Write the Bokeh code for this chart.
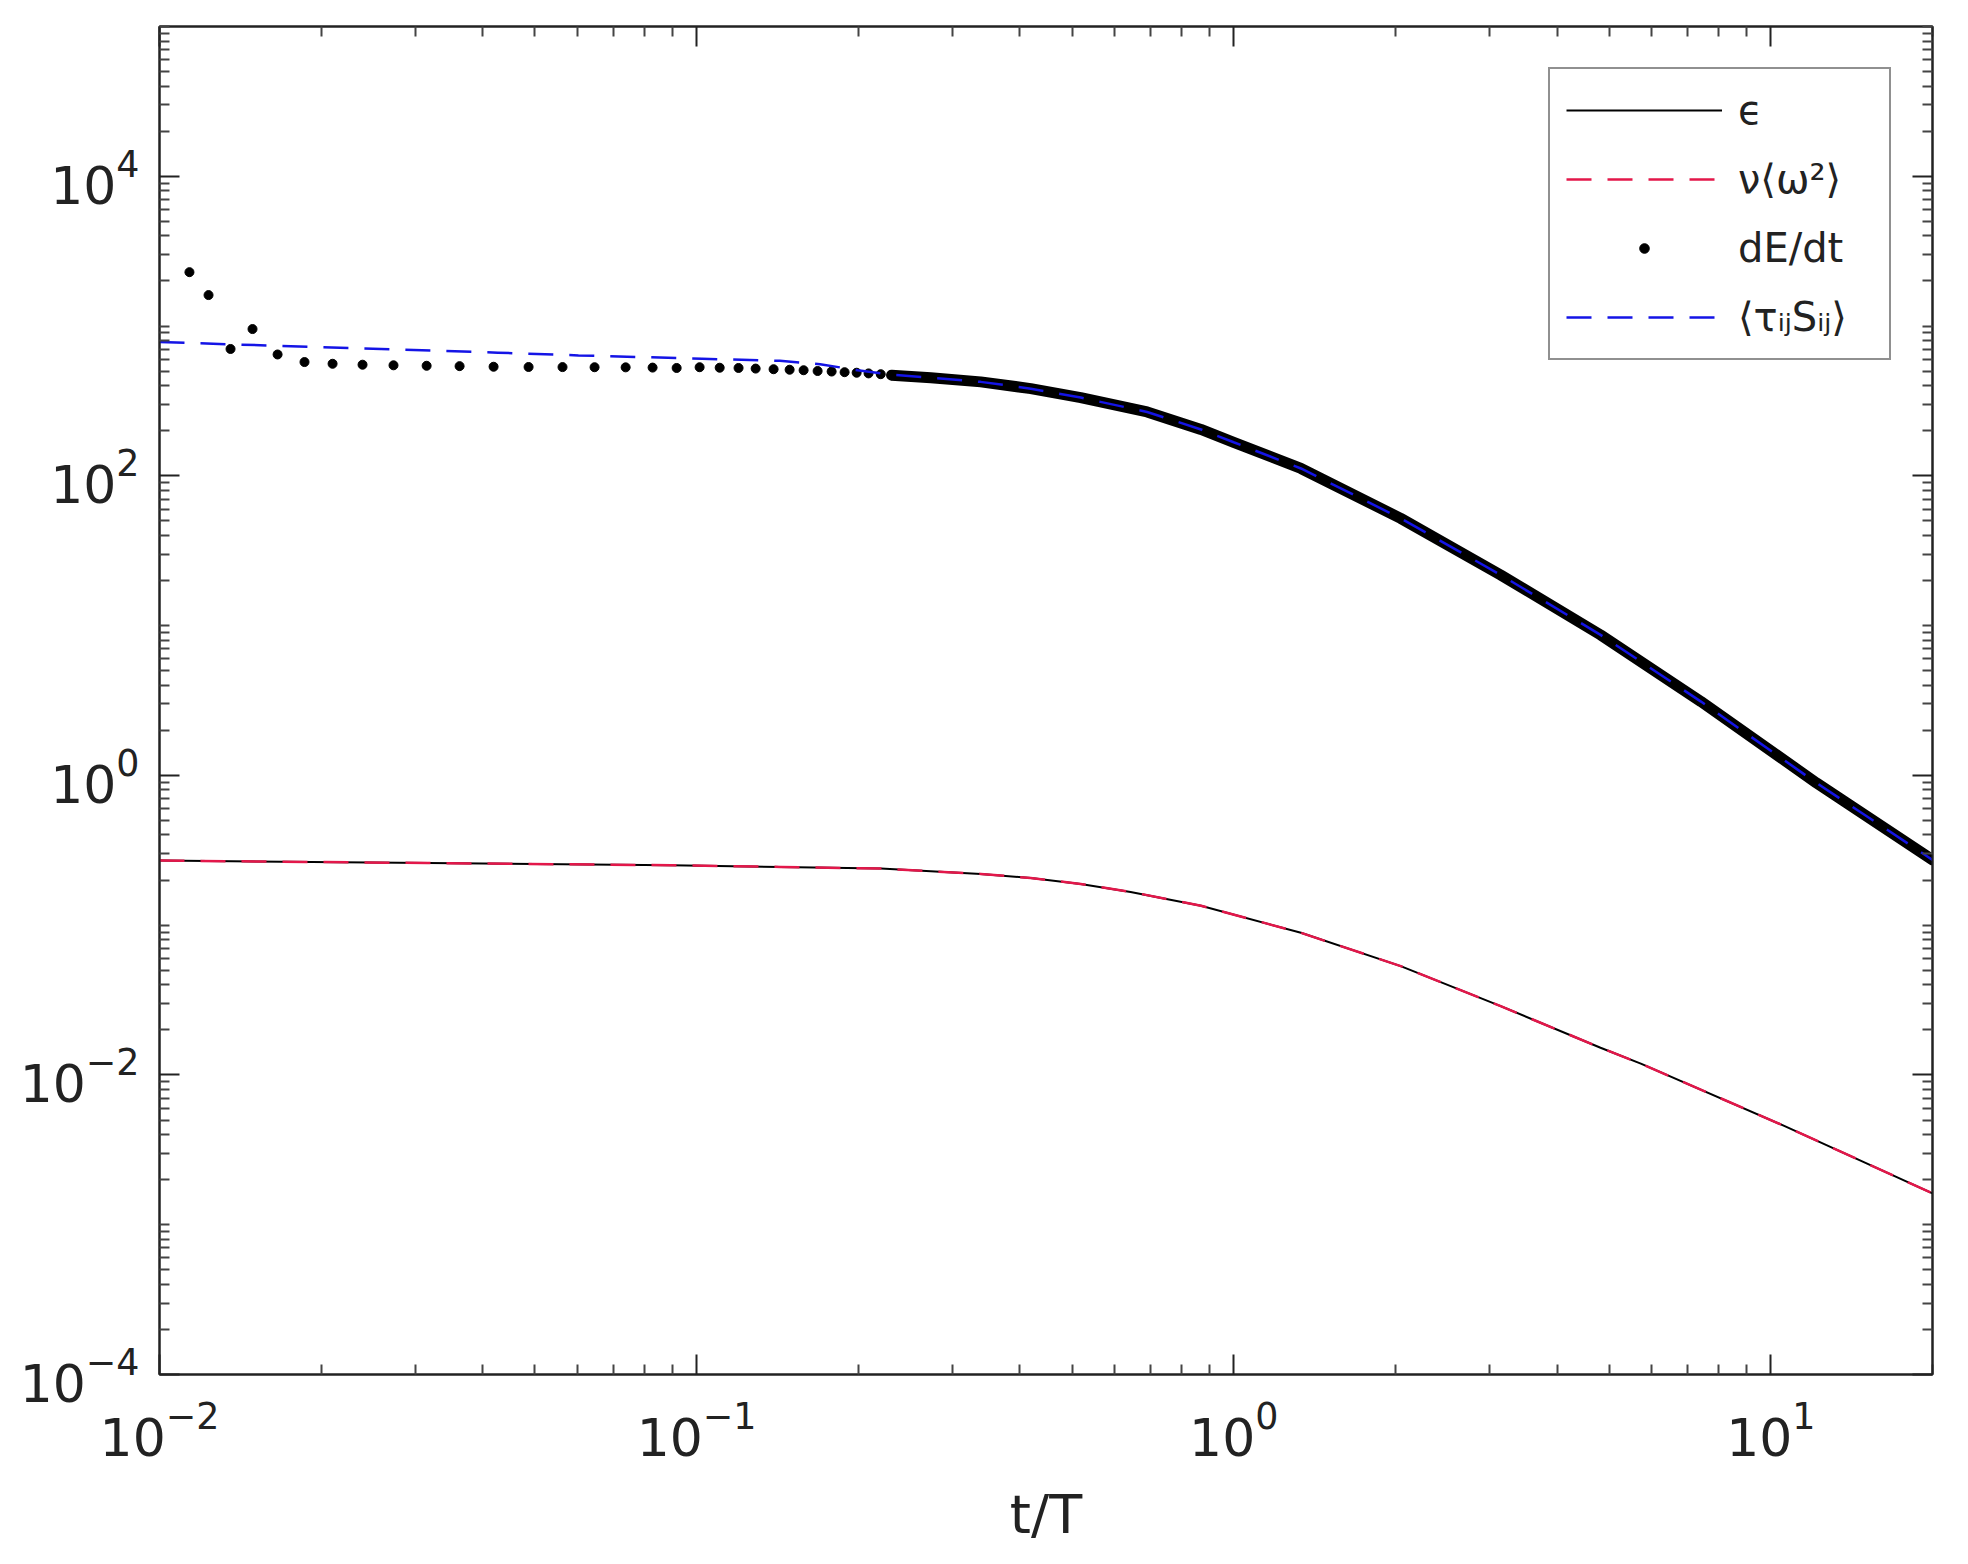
from bokeh.plotting import figure
from bokeh.models import LogAxis, FixedTicker, Legend, LegendItem, LogTickFormatter, CustomJSTickFormatter
from bokeh.embed import file_html
from bokeh.resources import INLINE

# ---------------- data ----------------
# epsilon and nu<omega^2> (the two lower curves coincide)
t_eps = [0.01, 0.0316, 0.0895, 0.1432, 0.2203, 0.2729, 0.3381, 0.4188, 0.5188,
         0.6427, 0.8690, 1.334, 2.046, 3.141, 4.819, 5.728, 10.59, 20.0]
eps = [0.270, 0.260, 0.2512, 0.2449, 0.2388, 0.2291, 0.2198, 0.2065, 0.1884,
       0.1667, 0.1349, 0.0889, 0.0533, 0.0288, 0.0152, 0.01189, 0.00457, 0.00162]
t_nu = t_eps
nu_omega2 = [0.270, 0.260, 0.2512, 0.2449, 0.2388, 0.2291, 0.2198, 0.2065, 0.1884,
             0.1667, 0.1349, 0.0889, 0.0533, 0.0288, 0.0152, 0.01189, 0.00457, 0.00162]

# dE/dt : resolved sample points
t_dots = [0.01137, 0.01234, 0.01356, 0.01490, 0.01659, 0.01862, 0.02100, 0.02388,
          0.02727, 0.03143, 0.03620, 0.04188, 0.04866, 0.05628, 0.06457, 0.07377,
          0.08280, 0.09180, 0.1013, 0.1104, 0.1197, 0.1288, 0.1391, 0.1490, 0.1582,
          0.1680, 0.1784, 0.1886, 0.1986, 0.2090, 0.2202, 0.2307]
dEdt_dots = [2290, 1610, 703, 955, 646, 575, 560, 552, 547, 543, 540, 535, 533, 532,
             531, 530, 528, 525, 531, 527, 525, 520, 515, 511, 507, 501, 497, 492,
             488, 483, 477, 470]
# dE/dt : densely sampled part (points merge into a thick band)
t_dense = [0.2307, 0.273, 0.338, 0.419, 0.519, 0.690, 0.869, 1.0, 1.334, 2.046,
           3.141, 4.819, 7.413, 12.16, 20.0]
dEdt_dense = [470, 452, 424, 382, 333, 267, 204, 167.5, 112, 52.0, 21.8, 8.67, 3.11,
              0.891, 0.273]

# <tau_ij S_ij>
t_tau = [0.01, 0.01995, 0.04266, 0.06026, 0.1023, 0.1429, 0.1698, 0.1995, 0.2307,
         0.273, 0.338, 0.419, 0.519, 0.690, 0.869, 1.0, 1.334, 2.046, 3.141, 4.819,
         7.413, 12.16, 20.0]
tauS = [782, 723, 664, 637, 605, 586, 556, 507, 473, 452, 424, 382, 333, 267, 204,
        167.5, 112, 52.0, 21.8, 8.67, 3.11, 0.891, 0.273]

x_major = [1e-2, 1e-1, 1e0, 1e1]
y_major = [1e-4, 1e-2, 1e0, 1e2, 1e4]
x_minor = [k * 10.0 ** n for n in range(-2, 2) for k in range(2, 10) if k * 10.0 ** n <= 20]
y_minor = [k * 10.0 ** n for n in range(-4, 6) for k in range(1, 10)
           if k * 10.0 ** n <= 1e5 and not (k == 1 and n % 2 == 0)]

INK = "#222222"
RED = "#e3174a"
BLUE = "#1414e6"

p = figure(width=1960, height=1556, x_axis_type="log", y_axis_type="log",
           x_range=(0.01, 20), y_range=(1e-4, 1e5),
           output_backend="svg", toolbar_location=None,
           min_border_left=159, min_border_right=28, min_border_top=26, min_border_bottom=182)
p.xgrid.visible = False
p.ygrid.visible = False
p.outline_line_color = INK
p.outline_line_width = 2
p.background_fill_color = "white"
p.border_fill_color = "white"

xt = FixedTicker(ticks=x_major, minor_ticks=x_minor)
yt = FixedTicker(ticks=y_major, minor_ticks=y_minor)


def style_axis(ax, labels=True):
    ax.axis_line_color = INK
    ax.axis_line_width = 2
    ax.major_tick_in = 20
    ax.major_tick_out = 0
    ax.minor_tick_in = 10
    ax.minor_tick_out = 0
    ax.major_tick_line_color = INK
    ax.major_tick_line_width = 2
    ax.minor_tick_line_color = "#444444"
    ax.minor_tick_line_width = 2
    if labels:
        ax.major_label_text_font = "DejaVu Sans"
        ax.major_label_text_font_size = "52px"
        ax.major_label_text_color = INK
    else:
        ax.formatter = CustomJSTickFormatter(code="return ''")
        ax.major_label_text_font_size = "0px"
        ax.major_label_standoff = 0


xa = p.xaxis[0]
xa.ticker = xt
xa.formatter = LogTickFormatter()
style_axis(xa)
xa.major_label_standoff = 26
xa.axis_label = "t/T"
xa.axis_label_text_font = "DejaVu Sans"
xa.axis_label_text_font_size = "54px"
xa.axis_label_text_font_style = "normal"
xa.axis_label_text_color = INK
xa.axis_label_standoff = 24

ya = p.yaxis[0]
ya.ticker = yt
ya.formatter = LogTickFormatter()
style_axis(ya)
ya.major_label_standoff = 20

top_ax = LogAxis(ticker=FixedTicker(ticks=x_major, minor_ticks=x_minor))
style_axis(top_ax, labels=False)
p.add_layout(top_ax, "above")
right_ax = LogAxis(ticker=FixedTicker(ticks=y_major, minor_ticks=y_minor))
style_axis(right_ax, labels=False)
p.add_layout(right_ax, "right")

# lower pair
r_eps = p.line(t_eps, eps, line_color="black", line_width=2)
r_nu = p.line(t_nu, nu_omega2, line_color=RED, line_width=2.5, line_dash="25 16")

# upper group
p.line(t_dense, dEdt_dense, line_color="black", line_width=11, line_cap="round", line_join="round")
r_dots = p.scatter(t_dots, dEdt_dots, marker="circle", size=9, fill_color="black", line_color="black")
r_tau = p.line(t_tau, tauS, line_color=BLUE, line_width=2.5, line_dash="25 16")

legend = Legend(items=[
    LegendItem(label="\u03f5", renderers=[r_eps]),
    LegendItem(label="\u03bd\u27e8\u03c9\u00b2\u27e9", renderers=[r_nu]),
    LegendItem(label="dE/dt", renderers=[r_dots]),
    LegendItem(label="\u27e8\u03c4\u1d62\u2c7cS\u1d62\u2c7c\u27e9", renderers=[r_tau]),
], location="top_right")
legend.margin = 41
legend.padding = 16
legend.spacing = 19
legend.glyph_width = 156
legend.glyph_height = 24
legend.label_height = 50
legend.label_width = 135
legend.label_standoff = 16
legend.label_text_font = "DejaVu Sans"
legend.label_text_font_size = "40px"
legend.label_text_color = INK
legend.border_line_color = INK
legend.border_line_width = 2
legend.background_fill_color = "white"
legend.background_fill_alpha = 1
p.add_layout(legend)

open("out.html", "w").write(file_html(p, INLINE))
